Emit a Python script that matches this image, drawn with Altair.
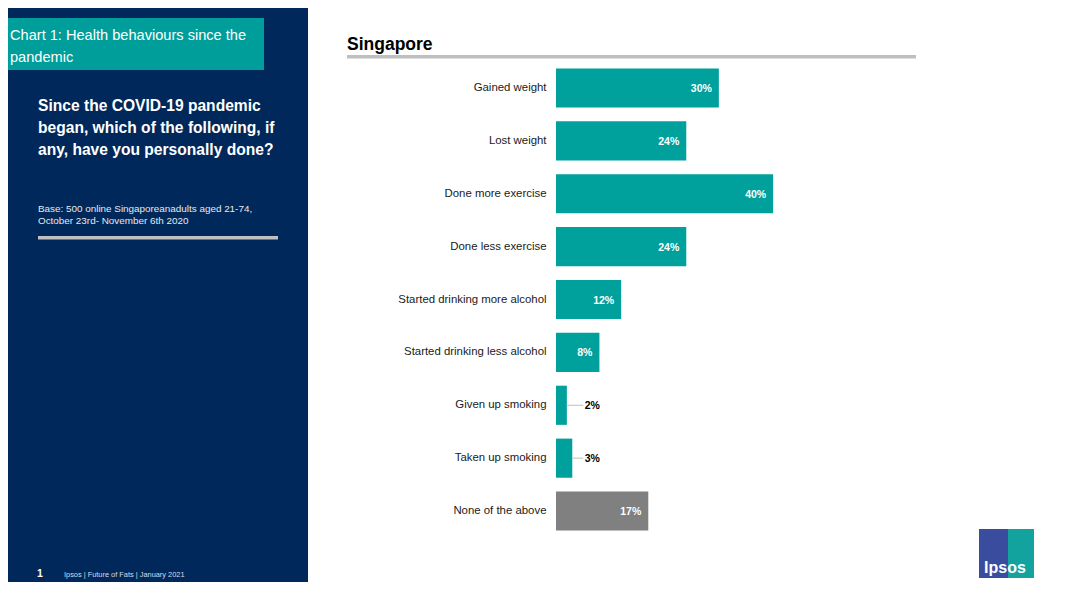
import altair as alt
import pandas as pd

categories = ["Gained weight", "Lost weight", "Done more exercise", "Done less exercise",
              "Started drinking more alcohol", "Started drinking less alcohol",
              "Given up smoking", "Taken up smoking", "None of the above"]
values = [30, 24, 40, 24, 12, 8, 2, 3, 17]
value_labels = ["30%", "24%", "40%", "24%", "12%", "8%", "2%", "3%", "17%"]
groups = ["answer"] * 8 + ["none"]

title_lines = ["Chart 1: Health behaviours since the", "pandemic"]
question_lines = ["Since the COVID-19 pandemic", "began, which of the following, if", "any, have you personally done?"]
base_lines = ["Base: 500 online Singaporeanadults aged 21-74,", "October 23rd- November 6th 2020"]
footer_text = "Ipsos | Future of Fats | January 2021"

df = pd.DataFrame({"cat": categories, "val": values, "lab": value_labels, "grp": groups})
one = pd.DataFrame({"k": [0]})

FONT = "Liberation Sans, Arial, Helvetica, sans-serif"
NAVY = "#00285A"
TEAL = "#00A09D"
GRAY = "#808080"
LINEGRAY = "#BFBFBF"

X0, Y0 = 556, 61.5      # page position of plot origin
W, H = 380, 476


def px(x):
    return x - X0


def py(y):
    return y - Y0


def rect(x1, x2, y1, y2, color):
    return alt.Chart(one).mark_rect(color=color).encode(
        x=alt.value(px(x1)), x2=alt.value(px(x2)), y=alt.value(py(y1)), y2=alt.value(py(y2)))


def txt(text, x, y, size, color, weight="normal", align="left", lh=None):
    kw = dict(text=text, font=FONT, fontSize=size, color=color, fontWeight=weight,
              align=align, baseline="alphabetic")
    if lh:
        kw["lineHeight"] = lh
    return alt.Chart(one).mark_text(**kw).encode(x=alt.value(px(x)), y=alt.value(py(y)))


xscale = alt.Scale(domain=[0, 70])
yenc = alt.Y("cat:N", sort=categories,
             scale=alt.Scale(paddingInner=0.26, paddingOuter=0.13),
             axis=alt.Axis(title=None, domain=False, ticks=False, labelPadding=10,
                           labelFont=FONT, labelFontSize=11.4, labelColor="#1A1A1A"))

bars = alt.Chart(df).mark_bar().encode(
    x=alt.X("val:Q", scale=xscale, axis=None),
    y=yenc,
    color=alt.Color("grp:N", scale=alt.Scale(domain=["answer", "none"], range=[TEAL, GRAY]), legend=None),
)

inside = alt.Chart(df).transform_filter("datum.val >= 5").mark_text(
    align="right", baseline="middle", dx=-7, dy=1, color="white", fontWeight="bold",
    font=FONT, fontSize=10.5).encode(
    x=alt.X("val:Q", scale=xscale, axis=None), y=yenc, text="lab:N")

leader = alt.Chart(df).transform_filter("datum.val < 5").transform_calculate(lead="5").mark_rule(
    color=LINEGRAY, strokeWidth=1).encode(
    x=alt.X("val:Q", scale=xscale, axis=None), x2="lead:Q", y=yenc)

outside = alt.Chart(df).transform_filter("datum.val < 5").transform_calculate(tx="5.3").mark_text(
    align="left", baseline="middle", dy=1, color="black", fontWeight="bold",
    font=FONT, fontSize=10.5).encode(
    x=alt.X("tx:Q", scale=xscale, axis=None), y=yenc, text="lab:N")

deco = [
    rect(0, 308, 0, 600, NAVY),
    rect(0, 264, 18, 70, "#009E9A"),
    txt(title_lines, 10, 40, 14.6, "white", lh=21.5),
    txt(question_lines, 38, 110.5, 15.6, "white", weight="bold", lh=22),
    txt(base_lines, 38, 211.5, 9.9, "#E6E9EF", lh=12.7),
    rect(38, 278, 236, 239.5, "#C0C0C0"),
    txt("1", 37, 577, 10.5, "white", weight="bold"),
    txt(footer_text, 64, 576.5, 7.4, "#D8DCE4"),
    txt("Singapore", 347, 49.5, 17.5, "black", weight="bold"),
    rect(347, 916, 55, 58.5, LINEGRAY),
    rect(979, 1008, 529, 578, "#3A4C9E"),
    rect(1008, 1034, 529, 578, "#12A39F"),
    txt("Ipsos", 1005, 573, 16, "white", weight="bold", align="center"),
]

chart = alt.layer(*deco, bars, inside, leader, outside).properties(
    width=W, height=H,
    autosize=alt.AutoSizeParams(type="none"),
    padding={"left": X0 - 8, "top": Y0 - 8, "right": 1051 - (X0 - 8) - W, "bottom": 44},
).configure(background="white").configure_view(stroke=None)

chart.save("out.html", embed_options={"renderer": "svg", "actions": False})
